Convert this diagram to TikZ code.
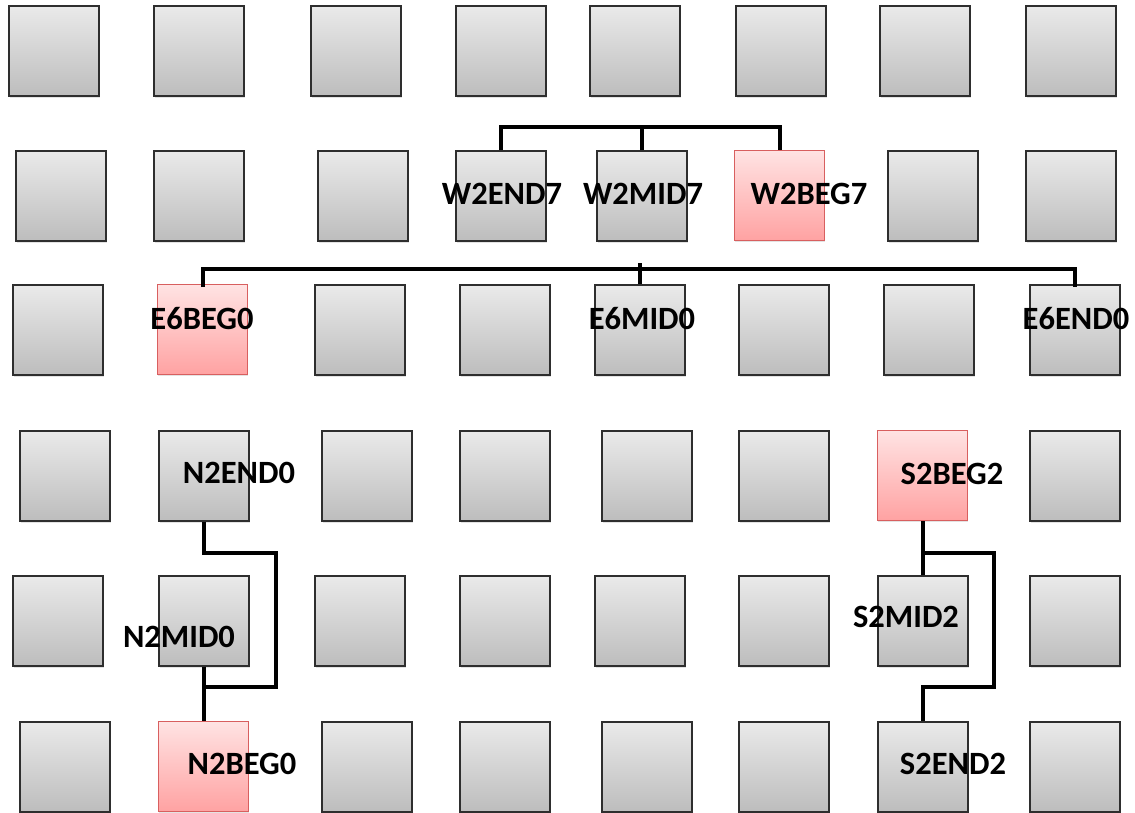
\documentclass[tikz,border=0pt]{standalone}
\usepackage{fontspec}
\setmainfont{Carlito}
\usetikzlibrary{shadows,calc}
\definecolor{gtop}{HTML}{EAEAEA}
\definecolor{gbot}{HTML}{BDBDBD}
\definecolor{gedge}{HTML}{2E2E2E}
\definecolor{ptop}{HTML}{FFE3E3}
\definecolor{pbot}{HTML}{FFA2A2}
\definecolor{pedge}{HTML}{D85F5F}
\tikzset{
  cellbox/.style={draw=gedge, line width=1.7pt, top color=gtop, bottom color=gbot,
    minimum width=90pt, minimum height=90pt, inner sep=0pt, anchor=north west,
    drop shadow={shadow xshift=0.8pt, shadow yshift=-1.8pt, opacity=0.22}},
  pinkbox/.style={draw=pedge, line width=1.3pt, top color=ptop, bottom color=pbot},
  pk-2-6/.style={pinkbox}, pk-3-2/.style={pinkbox}, pk-4-7/.style={pinkbox}, pk-6-2/.style={pinkbox},
  lbl/.style={font=\fontsize{32.5}{38}\selectfont\bfseries, inner sep=0pt},
  wire/.style={line width=3.8pt, black}
}
\begin{document}
\begin{tikzpicture}[x=1pt,y=-1pt]
\useasboundingbox (0,0) rectangle (1135,812);
% grid of cells
\foreach \x [count=\c] in {8,153,310,455,589,735,879,1025}
  \node[cellbox, pk-1-\c/.try] (b1\c) at (\x,5) {};
\foreach \x [count=\c] in {15,153,317,455,596,734,887,1025}
  \node[cellbox, pk-2-\c/.try] (b2\c) at (\x,150) {};
\foreach \x [count=\c] in {12,157,314,459,594,738,883,1029}
  \node[cellbox, pk-3-\c/.try] (b3\c) at (\x,284) {};
\foreach \x [count=\c] in {19,158,321,459,601,738,877,1029}
  \node[cellbox, pk-4-\c/.try] (b4\c) at (\x,430) {};
\foreach \x [count=\c] in {12,158,314,459,594,738,877,1029}
  \node[cellbox, pk-5-\c/.try] (b5\c) at (\x,575) {};
\foreach \x [count=\c] in {19,158,321,459,601,738,877,1029}
  \node[cellbox, pk-6-\c/.try] (b6\c) at (\x,721) {};
% bend points
\coordinate (wbar) at (0,127);
\coordinate (ebar) at (0,269);
\coordinate (n2a) at (276,553);
\coordinate (n2b) at (276,687);
\coordinate (s2a) at (994,553);
\coordinate (s2b) at (994,687);
% W2 wires
\draw[wire] (b24.north) -- (b24.north |- wbar) -- (b26.north |- wbar) -- (b26.north);
\draw[wire] (b25.north) -- (b25.north |- wbar);
% E6 wires
\draw[wire] ($(b32.north)+(0,3)$) -- (b32.north |- ebar) -- (b38.north |- ebar) -- ($(b38.north)+(0,3)$);
\draw[wire] (b35.north) -- ($(b35.north |- ebar)+(0,-6)$);
% N2 wires
\draw[wire] (b42.south) |- (n2a) -- (n2b) -| (b62.north);
\draw[wire] (b52.south) -- (b52.south |- n2b);
% S2 wires
\draw[wire] (b47.south) |- (s2a) -- (s2b) -| (b67.north);
\draw[wire] (b57.north) -- (b57.north |- s2a);
% labels
\node[lbl] (lw2end) at (502,194) {W2END7};
\node[lbl] (lw2mid) at (643,194) {W2MID7};
\node[lbl] (lw2beg) at (809,194) {W2BEG7};
\node[lbl] (le6beg) at (202,319) {E6BEG0};
\node[lbl] (le6mid) at (642,319) {E6MID0};
\node[lbl] (le6end) at (1076,319) {E6END0};
\node[lbl] (ln2end) at (239,473) {N2END0};
\node[lbl] (ls2beg) at (952,474) {S2BEG2};
\node[lbl] (ln2mid) at (179,637) {N2MID0};
\node[lbl] (ls2mid) at (906,617) {S2MID2};
\node[lbl] (ln2beg) at (242,764) {N2BEG0};
\node[lbl] (ls2end) at (953,764) {S2END2};
\end{tikzpicture}
\end{document}
